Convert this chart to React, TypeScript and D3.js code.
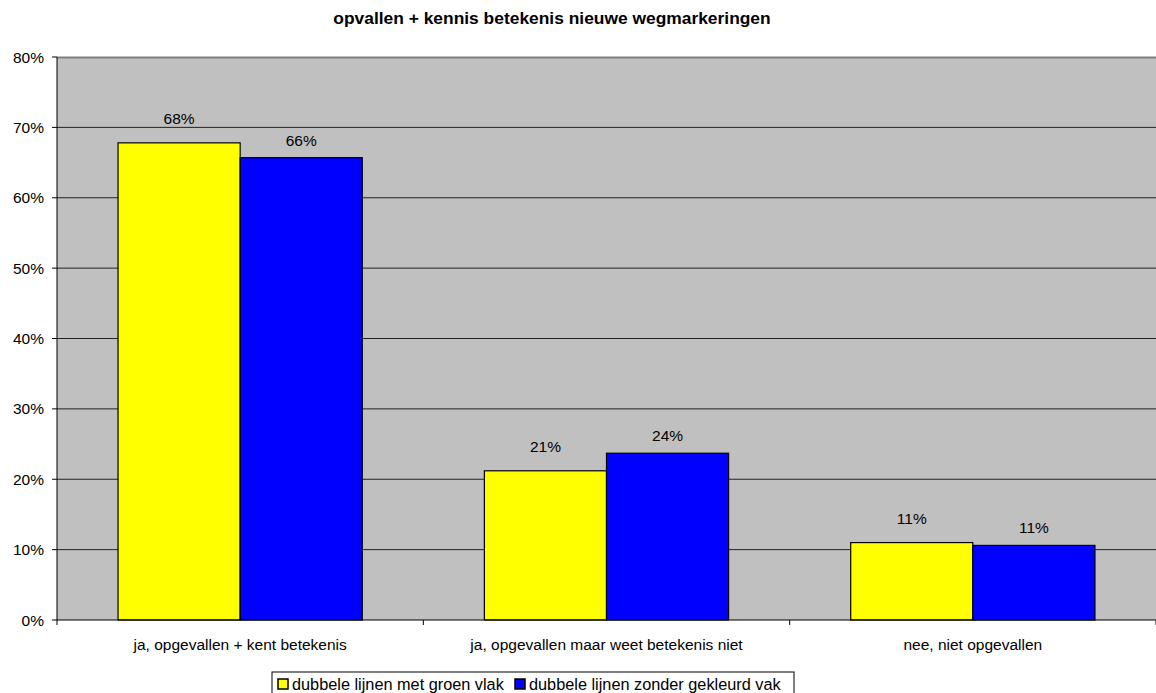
import React from "react";
import * as d3 from "d3";

const categories = [
  "ja, opgevallen + kent betekenis",
  "ja, opgevallen maar weet betekenis niet",
  "nee, niet opgevallen",
];
const seriesNames = [
  "dubbele lijnen met groen vlak",
  "dubbele lijnen zonder gekleurd vak",
];
const seriesYellow = [0.678, 0.212, 0.11];
const seriesBlue = [0.657, 0.237, 0.106];
const seriesColors = ["#FFFF00", "#0000FF"];
const yTicks = [0, 0.1, 0.2, 0.3, 0.4, 0.5, 0.6, 0.7, 0.8];
const title = "opvallen + kennis betekenis nieuwe wegmarkeringen";

export default function App() {
  const W = 1156;
  const H = 693;
  const left = 57;
  const right = 1156;
  const top = 57;
  const bottom = 620;
  const font = "'Liberation Sans', Arial, sans-serif";
  const fs = 15.5;

  const x = d3.scaleBand<string>().domain(categories).range([left, right]).padding(0);
  const bw = x.bandwidth();
  const inner = d3
    .scaleBand<number>()
    .domain([0, 1])
    .range([bw / 6, bw - bw / 6])
    .padding(0);
  const y = d3.scaleLinear().domain([0, 0.8]).range([bottom, top]);
  const fmt = d3.format(".0%");
  const series = [seriesYellow, seriesBlue];
  const labelOffset = [19, 12];

  return (
    <svg
      width={W}
      height={H}
      style={{ position: "absolute", left: 0, top: 0, background: "#fff" }}
      fontFamily={font}
    >
      <text x={552} y={24} textAnchor="middle" fontSize={17.4} fontWeight="bold" fill="#000">
        {title}
      </text>
      <rect x={left} y={top} width={right - left} height={bottom - top} fill="#C0C0C0" />
      {yTicks.map((t) => (
        <g key={t}>
          {t > 0 && t < 0.8 && (
            <line x1={left} x2={right} y1={y(t)} y2={y(t)} stroke="#222" strokeWidth={1} />
          )}
          <line x1={left - 5} x2={left} y1={y(t)} y2={y(t)} stroke="#000" />
          <text x={44} y={y(t) + 5.5} textAnchor="end" fontSize={fs} fill="#000">
            {fmt(t)}
          </text>
        </g>
      ))}
      <line x1={left} x2={right} y1={top + 0.5} y2={top + 0.5} stroke="#808080" strokeWidth={2} />
      {categories.map((c, i) => (
        <g key={c}>
          {series.map((s, j) => {
            const bx = (x(c) as number) + (inner(j) as number);
            const by = y(s[i]);
            return (
              <g key={j}>
                <rect
                  x={bx}
                  y={by}
                  width={inner.bandwidth()}
                  height={bottom - by}
                  fill={seriesColors[j]}
                  stroke="#000"
                  strokeWidth={1.2}
                />
                <text
                  x={bx + inner.bandwidth() / 2}
                  y={by - labelOffset[j]}
                  textAnchor="middle"
                  fontSize={fs}
                  fill="#000"
                >
                  {fmt(s[i])}
                </text>
              </g>
            );
          })}
          <text
            x={(x(c) as number) + bw / 2}
            y={650}
            textAnchor="middle"
            fontSize={fs}
            fill="#000"
          >
            {c}
          </text>
        </g>
      ))}
      {[...categories.map((c) => x(c) as number), right].map((tx, i) => (
        <line key={i} x1={tx} x2={tx} y1={bottom} y2={bottom + 5} stroke="#000" />
      ))}
      <line x1={left} x2={left} y1={top} y2={bottom} stroke="#000" />
      <line x1={left} x2={right} y1={bottom} y2={bottom} stroke="#000" />
      <rect x={272} y={672} width={522} height={30} fill="#fff" stroke="#000" />
      {seriesNames.map((n, j) => {
        const lx = j === 0 ? 278 : 515;
        return (
          <g key={n}>
            <rect x={lx} y={679} width={10} height={10} fill={seriesColors[j]} stroke="#000" strokeWidth={1.5} />
            <text x={lx + 14} y={690} fontSize={16.3} fill="#000">
              {n}
            </text>
          </g>
        );
      })}
    </svg>
  );
}
